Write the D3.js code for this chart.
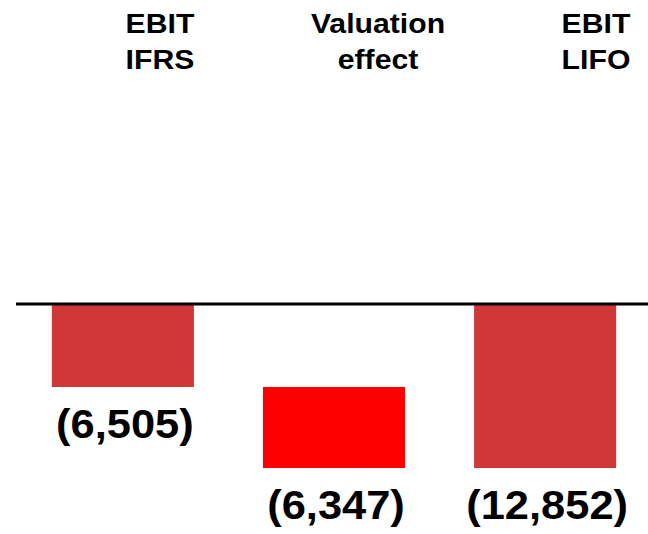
<!DOCTYPE html>
<html>
<head>
<meta charset="utf-8">
<script src="https://cdn.jsdelivr.net/npm/d3@7"></script>
<style>
  html, body { margin: 0; padding: 0; background: #fff; }
  svg { display: block; }
  text { font-family: "Liberation Sans", Arial, sans-serif; font-weight: bold; fill: #000; }
</style>
</head>
<body>
<svg id="chart" width="648" height="534"></svg>
<script>
// Data
const categories = ["EBIT IFRS", "Valuation effect", "EBIT LIFO"];
const headerLines = [["EBIT", "IFRS"], ["Valuation", "effect"], ["EBIT", "LIFO"]];
const values = [-6505, -6347, -12852];
const barTypes = ["total", "delta", "total"];
const valueLabels = ["(6,505)", "(6,347)", "(12,852)"];

const W = 648, H = 534;
const svg = d3.select("#chart");

// Waterfall start/end
let running = 0;
const bars = categories.map((c, i) => {
  let y0, y1;
  if (barTypes[i] === "total") { y0 = 0; y1 = values[i]; running = values[i]; }
  else { y0 = running; y1 = running + values[i]; running = y1; }
  return { cat: c, y0, y1, type: barTypes[i], label: valueLabels[i], header: headerLines[i] };
});

const x = d3.scaleBand().domain(categories).range([17, 651])
  .paddingInner(0.327).paddingOuter(0.165);
const y = d3.scaleLinear().domain([-12852, 0]).range([468, 304]);
const xh = d3.scalePoint().domain(categories).range([160, 596]);

const colors = { total: "#D03737", delta: "#FF0000" };

svg.selectAll("rect.bar").data(bars).join("rect")
  .attr("class", "bar")
  .attr("x", d => x(d.cat))
  .attr("width", x.bandwidth())
  .attr("y", d => y(Math.max(d.y0, d.y1)))
  .attr("height", d => Math.abs(y(d.y0) - y(d.y1)))
  .attr("fill", d => colors[d.type]);

// zero line
svg.append("line")
  .attr("x1", 16).attr("x2", W)
  .attr("y1", y(0)).attr("y2", y(0))
  .attr("stroke", "#000").attr("stroke-width", 3);

// value labels (slightly wide glyphs as in the reference)
svg.selectAll("g.val").data(bars).join("g")
  .attr("class", "val")
  .attr("transform", d => `translate(${x(d.cat) + x.bandwidth() / 2 + 2},${y(Math.min(d.y0, d.y1)) + 51}) scale(1.06,1)`)
  .append("text")
  .attr("text-anchor", "middle")
  .attr("font-size", 41)
  .text(d => d.label);

// headers
const hg = svg.selectAll("g.hdr").data(bars).join("g")
  .attr("class", "hdr")
  .attr("transform", d => `translate(${xh(d.cat)},0) scale(1.06,1)`)
  .append("text")
  .attr("text-anchor", "middle")
  .attr("font-size", 28.5);
hg.selectAll("tspan").data(d => d.header).join("tspan")
  .attr("x", 0)
  .attr("y", (d, i) => 33 + i * 36)
  .text(d => d);
</script>
</body>
</html>
